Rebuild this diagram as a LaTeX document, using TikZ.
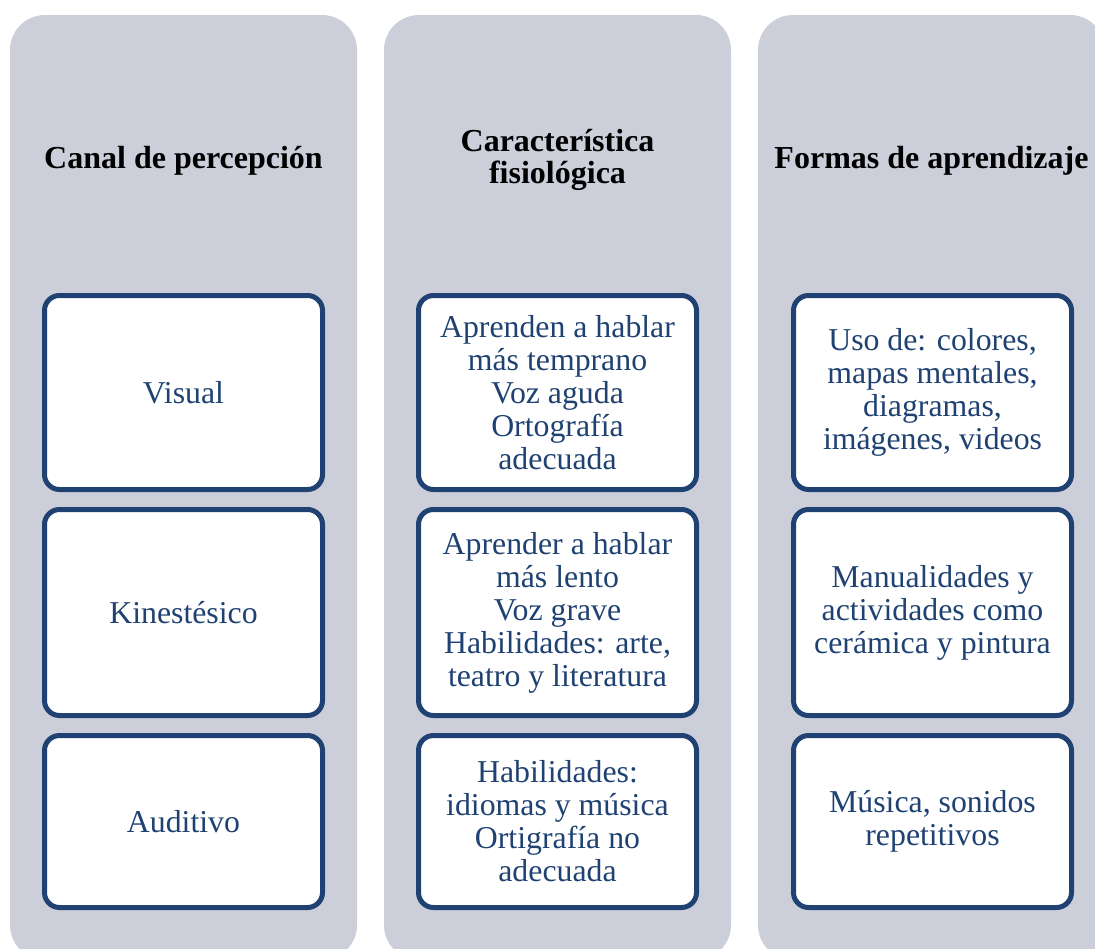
\documentclass[tikz,border=0pt]{standalone}
\usepackage{fontspec}
\setmainfont{Liberation Serif}
\definecolor{navy}{RGB}{31,66,114}
\definecolor{colgray}{RGB}{204,207,217}
\tikzset{
  colbg/.style={rectangle, fill=colgray, draw=none, rounded corners=35pt,
    minimum width=347pt, minimum height=945pt, inner sep=0pt},
  cell/.style={rectangle, draw=navy, line width=5pt, fill=white, rounded corners=15pt,
    minimum width=278pt, align=center, text=navy, inner sep=0pt,
    font=\fontsize{31.8}{33}\selectfont},
  head/.style={align=center, text=black, inner sep=0pt,
    font=\fontsize{32}{32}\selectfont\bfseries},
}
\begin{document}
\begin{tikzpicture}[x=1pt,y=-1pt]
\useasboundingbox (0,0) rectangle (1095,948);
% columns
\node[colbg] (c1) at (183.5,487.5) {};
\node[colbg] (c2) at (557.5,487.5) {};
\node[colbg] (c3) at (931.5,487.5) {};
% headers
\node[head] (h1) at (183.5,160.5) {Canal de percepción};
\node[head] (h2) at (557.5,160) {Característica\\fisiológica};
\node[head] (h3) at (931.5,160.5) {Formas de aprendizaje};
% row 1
\node[cell, minimum height=194pt] (a1) at (183.5,392.5) {Visual};
\node[cell, minimum height=194pt] (b1) at (557.5,392.5) {Aprenden a hablar\\más temprano\\Voz aguda\\Ortografía\\adecuada};
\node[cell, minimum height=194pt] (d1) at (932.5,392.5) {Uso de: colores,\\mapas mentales,\\diagramas,\\imágenes, videos};
% row 2
\node[cell, minimum height=206pt] (a2) at (183.5,612.5) {Kinestésico};
\node[cell, minimum height=206pt] (b2) at (557.5,612.5) {Aprender a hablar\\más lento\\Voz grave\\Habilidades: arte,\\teatro y literatura};
\node[cell, minimum height=206pt] (d2) at (932.5,612.5) {Manualidades y\\actividades como\\cerámica y pintura};
% row 3
\node[cell, minimum height=172pt] (a3) at (183.5,821.5) {Auditivo};
\node[cell, minimum height=172pt] (b3) at (557.5,821.5) {Habilidades:\\idiomas y música\\Ortigrafía no\\adecuada};
\node[cell, minimum height=172pt] (d3) at (932.5,821.5) {Música, sonidos\\repetitivos};
\end{tikzpicture}
\end{document}
